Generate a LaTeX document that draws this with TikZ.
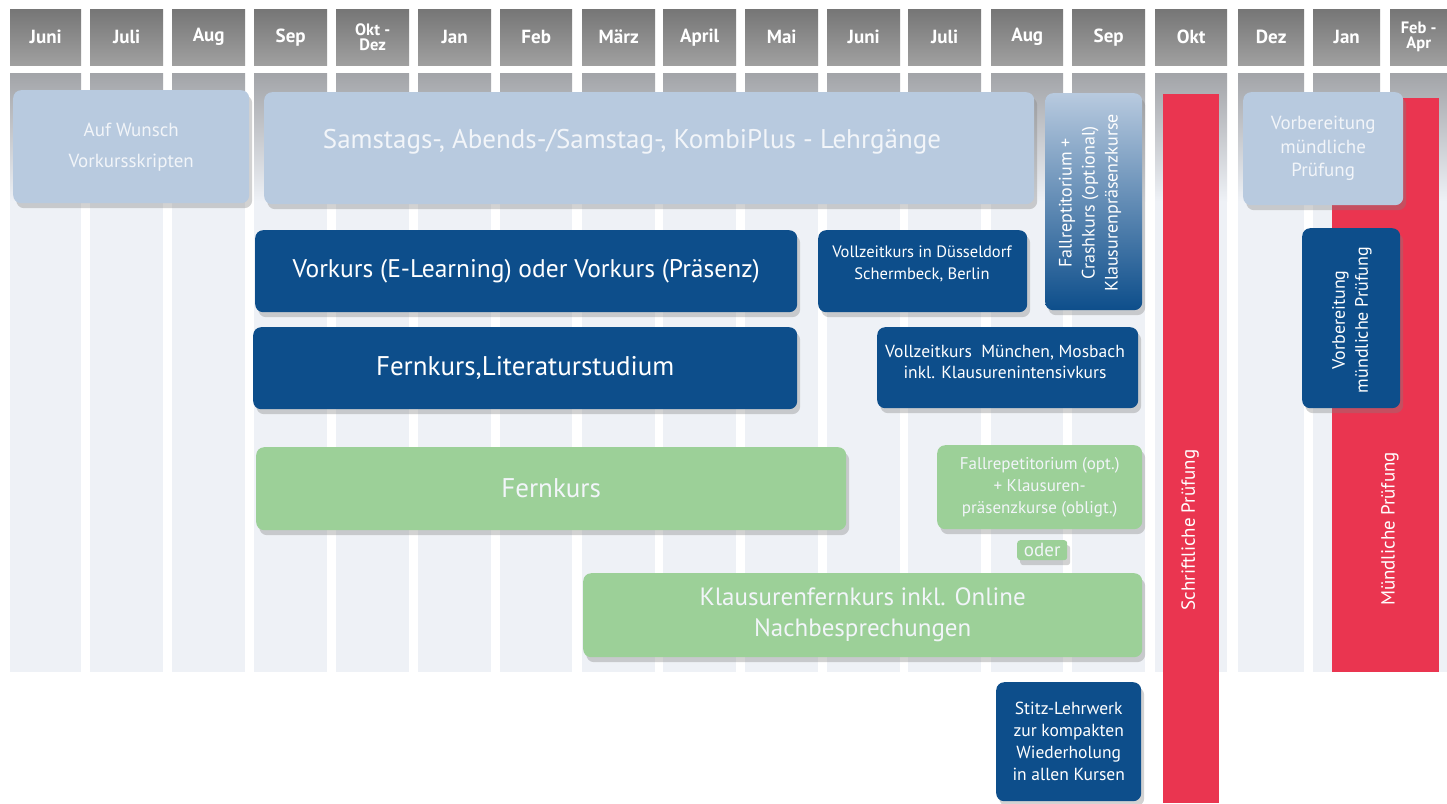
\documentclass[tikz,border=0pt]{standalone}
\usepackage{fontspec}
\setmainfont{PT Sans}
\usetikzlibrary{shadows}
\definecolor{hdrtop}{HTML}{767676}
\definecolor{hdrbot}{HTML}{A0A0A0}
\definecolor{striptop}{HTML}{A2A4A8}
\definecolor{stripbg}{HTML}{EEF1F6}
\definecolor{lightbox}{HTML}{B8CADF}
\definecolor{darkbox}{HTML}{0D4E8B}
\definecolor{greenbox}{HTML}{9CD098}
\definecolor{redbar}{HTML}{EA3550}
\definecolor{lighttext}{HTML}{F2F5F9}
\tikzset{
  x=1pt, y=-1pt,
  hdr/.style={rectangle, anchor=north west, minimum height=56pt, inner sep=0pt,
    top color=hdrtop, bottom color=hdrbot, text=white, align=center,
    font=\bfseries\fontsize{19}{16}\selectfont},
  hdrtwo/.style={hdr, font=\bfseries\fontsize{16.5}{15}\selectfont},
  boxbase/.style={rectangle, rounded corners=8pt, anchor=north west, inner sep=0pt,
    align=center, drop shadow={opacity=0.35, shadow xshift=3pt, shadow yshift=-5pt}},
  lbox/.style={boxbase, fill=lightbox, text=lighttext},
  dbox/.style={boxbase, fill=darkbox, text=white},
  gbox/.style={boxbase, fill=greenbox, text=lighttext},
  redbox/.style={rectangle, anchor=north west, inner sep=0pt, fill=redbar},
  lbl/.style={inner sep=0pt, align=center, text=white},
}
\begin{document}
\begin{tikzpicture}
\useasboundingbox (0,0) rectangle (1447,803);
\fill[white] (0,0) rectangle (1447,803);
% column strips
\foreach \x/\w in {10/71,90/73,172/73,254/73,336/73,418/73,500/72,582/73,663/73,745/73,827/73,908/73,991/72,1072/73,1155/72,1238/66,1313/67,1390/57}{
  \fill[stripbg] (\x,200) rectangle ++(\w,472);
  \shade[top color=striptop, bottom color=stripbg] (\x,73) rectangle ++(\w,128);
}
% headers
\node[hdr, minimum width=71pt] (h1) at (10,9) {Juni};
\node[hdr, minimum width=73pt] (h2) at (90,9) {Juli};
\node[hdr, minimum width=73pt] (h3) at (172,9) {Aug};
\node[hdr, minimum width=73pt] (h4) at (254,9) {Sep};
\node[hdrtwo, minimum width=73pt] (h5) at (336,9) {Okt -\\Dez};
\node[hdr, minimum width=73pt] (h6) at (418,9) {Jan};
\node[hdr, minimum width=72pt] (h7) at (500,9) {Feb};
\node[hdr, minimum width=73pt] (h8) at (582,9) {März};
\node[hdr, minimum width=73pt] (h9) at (663,9) {April};
\node[hdr, minimum width=73pt] (h10) at (745,9) {Mai};
\node[hdr, minimum width=73pt] (h11) at (827,9) {Juni};
\node[hdr, minimum width=73pt] (h12) at (908,9) {Juli};
\node[hdr, minimum width=72pt] (h13) at (991,9) {Aug};
\node[hdr, minimum width=73pt] (h14) at (1072,9) {Sep};
\node[hdr, minimum width=72pt] (h15) at (1155,9) {Okt};
\node[hdr, minimum width=66pt] (h16) at (1238,9) {Dez};
\node[hdr, minimum width=67pt] (h17) at (1313,9) {Jan};
\node[hdrtwo, minimum width=57pt] (h18) at (1390,9) {Feb -\\Apr};
% red bars
\node[redbox, minimum width=56pt, minimum height=709pt] (schr) at (1163,94) {};
\node[lbl, rotate=90, font=\fontsize{19}{19}\selectfont] (schrt) at (1190,530) {Schriftliche Prüfung};
\node[redbox, minimum width=107pt, minimum height=574pt] (muend) at (1332,98) {};
\node[lbl, rotate=90, font=\fontsize{19}{19}\selectfont] (muendt) at (1390,529) {Mündliche Prüfung};
% light blue boxes
\node[lbox, minimum width=236pt, minimum height=113pt, font=\fontsize{19}{31}\selectfont] (wunsch) at (13,90) {Auf Wunsch\\Vorkursskripten};
\node[lbox, minimum width=770pt, minimum height=112pt] (sam) at (264,92) {};
\node[lbl, text=lighttext, font=\fontsize{27}{27}\selectfont] (samt) at (632,142) {Samstags-, Abends-/Samstag-, KombiPlus - Lehrgänge};
\node[boxbase, top color=lightbox, bottom color=darkbox, minimum width=97pt, minimum height=217pt] (fallv) at (1045,93) {};
\node[lbl, rotate=90, font=\fontsize{18}{23}\selectfont] (fallvt) at (1090,203) {Fallreptitorium +\\Crashkurs (optional)\\Klausurenpräsenzkurse};
\node[lbox, minimum width=160pt, minimum height=113pt, font=\fontsize{19}{23.5}\selectfont] (vorbl) at (1243,92) {Vorbereitung\\mündliche\\Prüfung};
% dark blue boxes
\node[dbox, minimum width=542pt, minimum height=82pt, font=\fontsize{25.5}{25}\selectfont] (vork) at (255,230) {Vorkurs (E-Learning) oder Vorkurs (Präsenz)};
\node[dbox, minimum width=209pt, minimum height=82pt] (vzd) at (818,230) {};
\node[lbl, font=\fontsize{16.5}{22}\selectfont] (vzdt) at (922,264) {Vollzeitkurs in Düsseldorf\\Schermbeck, Berlin};
\node[dbox, minimum width=544pt, minimum height=82pt, font=\fontsize{27}{27}\selectfont] (fern) at (253,327) {Fernkurs,Literaturstudium};
\node[dbox, minimum width=261pt, minimum height=81pt] (vzm) at (877,327) {};
\node[lbl, font=\fontsize{17.5}{21}\selectfont] (vzmt) at (1005,362) {Vollzeitkurs\ \ München, Mosbach\\inkl. Klausurenintensivkurs};
\node[dbox, minimum width=98pt, minimum height=180pt] (vorbd) at (1302,228) {};
\node[lbl, rotate=90, font=\fontsize{18}{23}\selectfont] (vorbdt) at (1352,320) {Vorbereitung\\mündliche Prüfung};
\node[dbox, minimum width=145pt, minimum height=119pt, font=\fontsize{17.5}{22}\selectfont] (stitz) at (996,682) {Stitz-Lehrwerk\\zur kompakten\\Wiederholung\\in allen Kursen};
% green boxes
\node[gbox, minimum width=590pt, minimum height=83pt, font=\fontsize{27}{27}\selectfont] (fernk) at (256,447) {Fernkurs};
\node[gbox, minimum width=205pt, minimum height=84pt, font=\fontsize{17}{22}\selectfont] (fallg) at (937,445) {Fallrepetitorium (opt.)\\+ Klausuren-\\präsenzkurse (obligt.)};
\node[gbox, rounded corners=3pt, minimum width=50pt, minimum height=20pt, font=\fontsize{19}{19}\selectfont] (oder) at (1017,540) {oder};
\node[gbox, minimum width=559pt, minimum height=84pt, font=\fontsize{25}{31}\selectfont] (klaus) at (583,573) {Klausurenfernkurs inkl. Online\\Nachbesprechungen};
\end{tikzpicture}
\end{document}
